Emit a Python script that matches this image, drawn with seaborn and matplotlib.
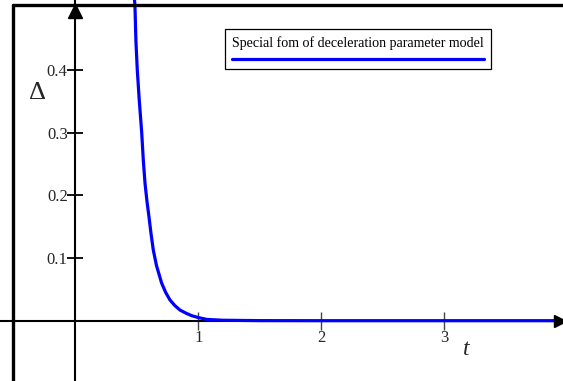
import numpy as np
import pandas as pd
import seaborn as sns
import matplotlib
matplotlib.use("Agg")
import matplotlib.pyplot as plt
from matplotlib.lines import Line2D
from matplotlib.offsetbox import AnchoredOffsetbox, TextArea, DrawingArea, VPacker

# ---- data ----
t_vals = [0.47, 0.485, 0.493, 0.504, 0.52, 0.54, 0.553, 0.567, 0.583, 0.599, 0.615,
          0.634, 0.66, 0.702, 0.735, 0.77, 0.81, 0.851, 0.90, 0.946, 1.0, 1.07,
          1.2, 1.5, 2.0, 2.5, 3.0, 3.5, 3.93]
delta_vals = [0.54, 0.503, 0.446, 0.40, 0.352, 0.30, 0.256, 0.219, 0.19, 0.166, 0.14,
              0.113, 0.088, 0.060, 0.045, 0.033, 0.024, 0.017, 0.012, 0.008, 0.005, 0.002,
              0.0007, 0.0001, 0.0, 0.0, 0.0, 0.0, 0.0]
x_ticks = [1, 2, 3]
y_ticks = [0.1, 0.2, 0.3, 0.4]
legend_label = "Special fom of deceleration parameter model"
x_label = "t"
y_label = "Δ"

df = pd.DataFrame({"t": t_vals, "Delta": delta_vals})

sns.set_style("white")
plt.rcParams["font.family"] = ["Liberation Serif", "DejaVu Serif"]

W, H = 563, 381
fig = plt.figure(figsize=(W / 100, H / 100), dpi=100)
ax = fig.add_axes([0, 0, 1, 1])

sns.lineplot(data=df, x="t", y="Delta", ax=ax, color="#0000ff", lw=2.3,
             sort=False, estimator=None, legend=False, zorder=5)

ax.set_xlim(-0.612, 3.965)
ax.set_ylim(-0.0962, 0.5115)

for s in ["top", "right"]:
    ax.spines[s].set_visible(False)
ax.spines["left"].set_position(("data", 0))
ax.spines["bottom"].set_position(("data", 0))
ax.spines["left"].set_linewidth(1.5)
ax.spines["bottom"].set_linewidth(1.5)
ax.spines["left"].set_color("black")
ax.spines["bottom"].set_color("black")

ax.set_xticks(x_ticks)
ax.set_xticklabels([str(v) for v in x_ticks])
ax.set_yticks(y_ticks)
ax.set_yticklabels([f"{v:.1f}" for v in y_ticks])
ax.tick_params(axis="x", bottom=True, direction="inout", length=13, width=1.0,
               color="#444444", labelsize=12, pad=0)
ax.tick_params(axis="y", left=True, direction="inout", length=11, width=1.3,
               color="black", labelsize=12, pad=0)

ax.set_xlabel(x_label, fontsize=17, style="italic")
ax.xaxis.set_label_coords(466.7 / W, 1 - 349.5 / H)
ax.xaxis.label.set_va("center")
ax.set_ylabel(y_label, fontsize=19, rotation=0)
ax.yaxis.set_label_coords(38 / W, 1 - 93 / H)
ax.yaxis.label.set_va("center")
ax.yaxis.label.set_ha("center")

# axis arrows
ax.plot([0], [1 - 11 / H], marker="^", color="black", ms=10, transform=ax.get_xaxis_transform(),
        clip_on=False, zorder=6)
ax.plot([1 - 3 / W], [0], marker=">", color="black", ms=9, transform=ax.get_yaxis_transform(),
        clip_on=False, zorder=6)

# outer frame (left and top visible)
fig.add_artist(Line2D([13 / W, 13 / W], [0, 1 - 5 / H], transform=fig.transFigure,
                      color="black", lw=2.4))
fig.add_artist(Line2D([13 / W, 1], [1 - 5 / H, 1 - 5 / H], transform=fig.transFigure,
                      color="black", lw=2.4))

# Maple-style legend: text above a line sample
txt = TextArea(legend_label, textprops=dict(fontsize=10.1, color="black"))
LW = 252 * 0.72
da = DrawingArea(LW, 4, 0, 0)
da.add_artist(Line2D([0, LW], [2, 2], color="#0000ff", lw=2.3))
pack = VPacker(children=[txt, da], align="center", pad=0, sep=5)
box = AnchoredOffsetbox(loc="upper left", child=pack, pad=0.5, borderpad=0,
                        frameon=True, bbox_to_anchor=(225 / W, 1 - 29 / H),
                        bbox_transform=fig.transFigure)
box.patch.set_edgecolor("black")
box.patch.set_linewidth(0.9)
box.patch.set_boxstyle("square", pad=0)
ax.add_artist(box)

fig.savefig("out.png", dpi=100)
